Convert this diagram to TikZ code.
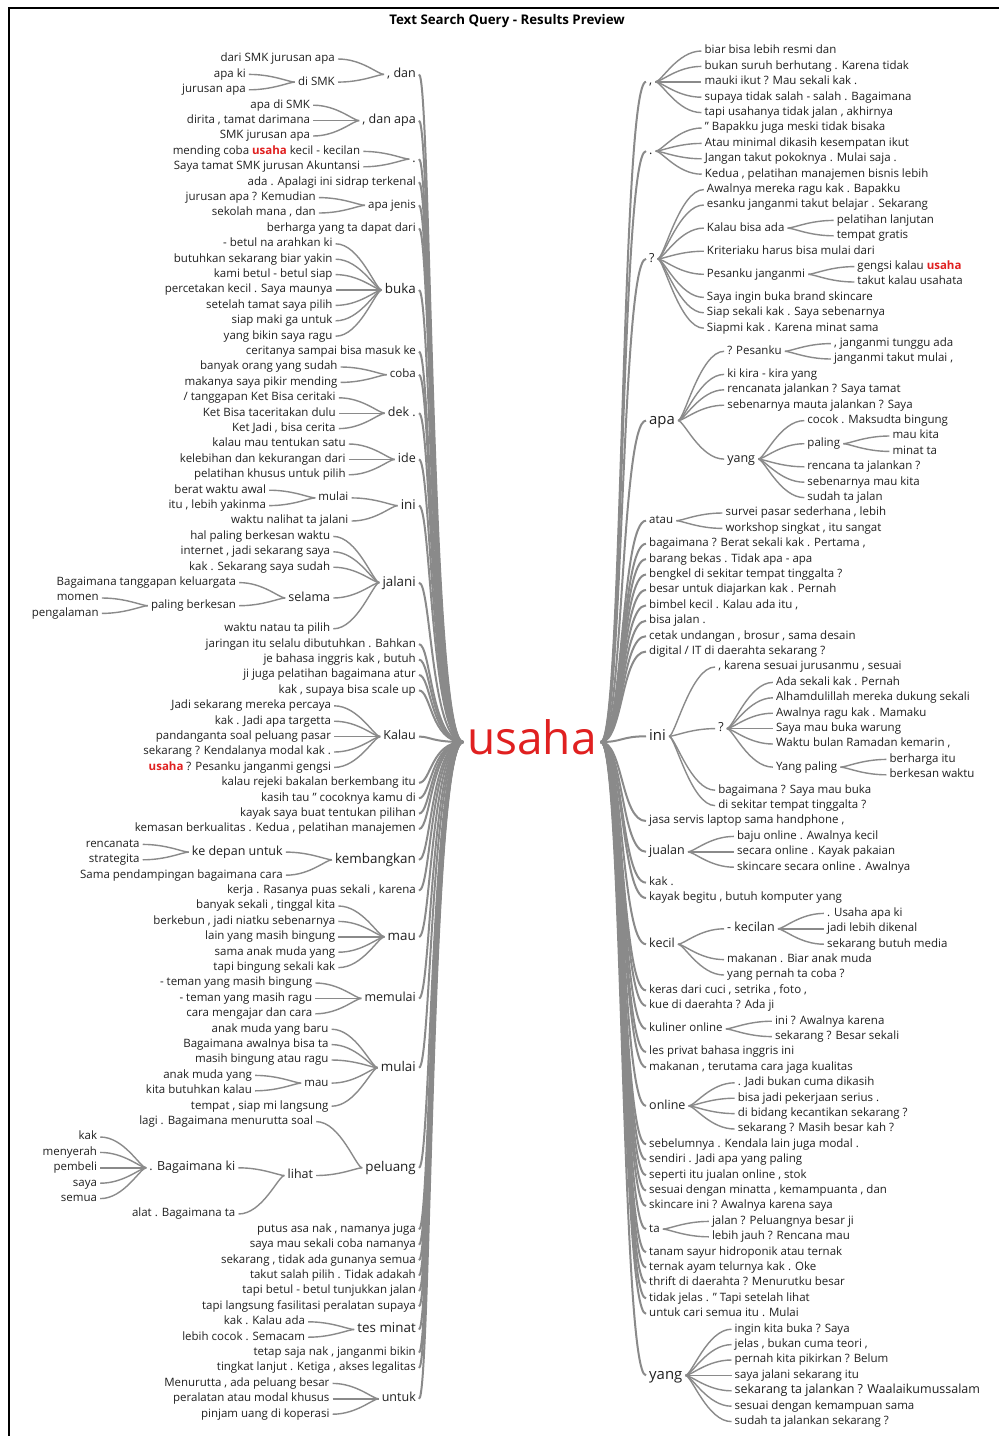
\documentclass[tikz,border=0pt]{standalone}
\usepackage{fontspec}
\setmainfont{Open Sans}
\definecolor{txt}{RGB}{32,32,32}
\definecolor{lnc}{RGB}{138,138,138}
\definecolor{usared}{RGB}{224,32,32}
\newcommand\hlu{{\color{usared}\bfseries usaha}}
\newcommand\conL[2]{\draw[con] (#1.east) .. controls +(24,0) and +(-6,0) .. (#2.west);}
\newcommand\conR[2]{\draw[con] (#1.east) .. controls +(6,0) and +(-24,0) .. (#2.west);}
\newcommand\trL[1]{\draw[trk] (#1.east) .. controls +(12,0) and +(-32,0) .. (usaha.west);}
\newcommand\trR[1]{\draw[trk] (usaha.east) .. controls +(22,0) and +(-25,0) .. (#1.west);}
\begin{document}
\begin{tikzpicture}[x=1pt,y=-1pt,
  every node/.style={inner xsep=3pt,inner ysep=0pt,text=txt},
  sA/.style={font=\fontsize{11.5}{11.5}\selectfont,text height=8.3pt,text depth=2.5pt},
  sB/.style={font=\fontsize{12.5}{12.5}\selectfont,text height=9pt,text depth=2.7pt},
  sC/.style={font=\fontsize{13.4}{13.4}\selectfont,text height=9.7pt,text depth=2.9pt},
  sD/.style={font=\fontsize{14.9}{14.9}\selectfont,text height=10.8pt,text depth=3.2pt},
  lt/.style={anchor=east,sA}, rt/.style={anchor=west,sA},
  lc/.style={lt,xshift=-46pt}, rc/.style={rt,xshift=46pt},
  con/.style={draw=lnc,line width=1.4pt},
  trk/.style={draw=lnc,line width=2pt}]
\useasboundingbox (0,0) rectangle (999,1436);
\fill[white] (0,0) rectangle (999,1436);
\draw[line width=2pt] (9,8) rectangle (1012,1450);
\node[font=\bfseries\fontsize{13.3}{13.3}\selectfont,text=black] (title) at (507,21) {Text Search Query - Results Preview};
\node[font=\fontsize{46}{46}\selectfont,text=usared,inner xsep=4pt,text height=25pt,text depth=0pt] (usaha) at (532,742) {usaha};
% ---------------- LEFT ----------------
\node[lt,sB] (L1) at (419,74.4) {, dan};
\node[lc] (L1a) at (L1.west |- 0,59) {dari SMK jurusan apa};
\node[lc] (L1b) at (L1.west |- 0,82.1) {di SMK};
\node[lc] (L1c) at (L1b.west |- 0,74.4) {apa ki};
\node[lc] (L1d) at (L1b.west |- 0,89.8) {jurusan apa};
\conL{L1a}{L1}\conL{L1b}{L1}\conL{L1c}{L1b}\conL{L1d}{L1b}
\node[lt,sB] (L2) at (419,120.6) {, dan apa};
\node[lc] (L2a) at (L2.west |- 0,105.2) {apa di SMK};
\node[lc] (L2b) at (L2.west |- 0,120.6) {dirita , tamat darimana};
\node[lc] (L2c) at (L2.west |- 0,136) {SMK jurusan apa};
\conL{L2a}{L2}\conL{L2b}{L2}\conL{L2c}{L2}
\node[lt,sB] (L3) at (419,159.1) {.};
\node[lc] (L3a) at (L3.west |- 0,151.4) {mending coba \hlu{} kecil - kecilan};
\node[lc] (L3b) at (L3.west |- 0,166.8) {Saya tamat SMK jurusan Akuntansi};
\conL{L3a}{L3}\conL{L3b}{L3}
\node[lt] (L4) at (419,182.2) {ada . Apalagi ini sidrap terkenal};
\node[lt] (L5) at (419,205.3) {apa jenis};
\node[lc] (L5a) at (L5.west |- 0,197.6) {jurusan apa ? Kemudian};
\node[lc] (L5b) at (L5.west |- 0,213) {sekolah mana , dan};
\conL{L5a}{L5}\conL{L5b}{L5}
\node[lt] (L6) at (419,228.4) {berharga yang ta dapat dari};
\node[lt,sC] (L7) at (419,290) {buka};
\node[lc] (L7a) at (L7.west |- 0,243.8) {- betul na arahkan ki};
\node[lc] (L7b) at (L7.west |- 0,259.2) {butuhkan sekarang biar yakin};
\node[lc] (L7c) at (L7.west |- 0,274.6) {kami betul - betul siap};
\node[lc] (L7d) at (L7.west |- 0,290) {percetakan kecil . Saya maunya};
\node[lc] (L7e) at (L7.west |- 0,305.4) {setelah tamat saya pilih};
\node[lc] (L7f) at (L7.west |- 0,320.8) {siap maki ga untuk};
\node[lc] (L7g) at (L7.west |- 0,336.2) {yang bikin saya ragu};
\foreach \c in {a,b,c,d,e,f,g}{\conL{L7\c}{L7}}
\node[lt] (L8) at (419,351.6) {ceritanya sampai bisa masuk ke};
\node[lt] (L9) at (419,374.7) {coba};
\node[lc] (L9a) at (L9.west |- 0,367) {banyak orang yang sudah};
\node[lc] (L9b) at (L9.west |- 0,382.4) {makanya saya pikir mending};
\conL{L9a}{L9}\conL{L9b}{L9}
\node[lt,sB] (L10) at (419,413.2) {dek .};
\node[lc] (L10a) at (L10.west |- 0,397.8) {/ tanggapan Ket Bisa ceritaki};
\node[lc] (L10b) at (L10.west |- 0,413.2) {Ket Bisa taceritakan dulu};
\node[lc] (L10c) at (L10.west |- 0,428.6) {Ket Jadi , bisa cerita};
\conL{L10a}{L10}\conL{L10b}{L10}\conL{L10c}{L10}
\node[lt,sB] (L11) at (419,459.4) {ide};
\node[lc] (L11a) at (L11.west |- 0,444) {kalau mau tentukan satu};
\node[lc] (L11b) at (L11.west |- 0,459.4) {kelebihan dan kekurangan dari};
\node[lc] (L11c) at (L11.west |- 0,474.8) {pelatihan khusus untuk pilih};
\conL{L11a}{L11}\conL{L11b}{L11}\conL{L11c}{L11}
\node[lt,sC] (L12) at (419,505.6) {ini};
\node[lc] (L12a) at (L12.west |- 0,497.9) {mulai};
\node[lc] (L12b) at (L12.west |- 0,521) {waktu nalihat ta jalani};
\node[lc] (L12c) at (L12a.west |- 0,490.2) {berat waktu awal};
\node[lc] (L12d) at (L12a.west |- 0,505.6) {itu , lebih yakinma};
\conL{L12a}{L12}\conL{L12b}{L12}\conL{L12c}{L12a}\conL{L12d}{L12a}
\node[lt,sC] (L13) at (419,582.6) {jalani};
\node[lc] (L13a) at (L13.west |- 0,536.4) {hal paling berkesan waktu};
\node[lc] (L13b) at (L13.west |- 0,551.8) {internet , jadi sekarang saya};
\node[lc] (L13c) at (L13.west |- 0,567.2) {kak . Sekarang saya sudah};
\node[lc,sB] (L13d) at (L13.west |- 0,598) {selama};
\node[lc] (L13e) at (L13.west |- 0,628.8) {waktu natau ta pilih};
\node[lc] (L13f) at (L13d.west |- 0,582.6) {Bagaimana tanggapan keluargata};
\node[lc] (L13g) at (L13d.west |- 0,605.7) {paling berkesan};
\node[lc] (L13h) at (L13g.west |- 0,598) {momen};
\node[lc] (L13i) at (L13g.west |- 0,613.4) {pengalaman};
\foreach \c in {a,b,c,d,e}{\conL{L13\c}{L13}}
\conL{L13f}{L13d}\conL{L13g}{L13d}\conL{L13h}{L13g}\conL{L13i}{L13g}
\node[lt] (L14) at (419,644.2) {jaringan itu selalu dibutuhkan . Bahkan};
\node[lt] (L15) at (419,659.6) {je bahasa inggris kak , butuh};
\node[lt] (L16) at (419,675) {ji juga pelatihan bagaimana atur};
\node[lt] (L17) at (419,690.4) {kak , supaya bisa scale up};
\node[lt,sB] (L18) at (419,736.6) {Kalau};
\node[lc] (L18a) at (L18.west |- 0,705.8) {Jadi sekarang mereka percaya};
\node[lc] (L18b) at (L18.west |- 0,721.2) {kak . Jadi apa targetta};
\node[lc] (L18c) at (L18.west |- 0,736.6) {pandanganta soal peluang pasar};
\node[lc] (L18d) at (L18.west |- 0,752) {sekarang ? Kendalanya modal kak .};
\node[lc] (L18e) at (L18.west |- 0,767.4) {\hlu{} ? Pesanku janganmi gengsi};
\foreach \c in {a,b,c,d,e}{\conL{L18\c}{L18}}
\node[lt] (L19) at (419,782.8) {kalau rejeki bakalan berkembang itu};
\node[lt] (L20) at (419,798.2) {kasih tau " cocoknya kamu di};
\node[lt] (L21) at (419,813.6) {kayak saya buat tentukan pilihan};
\node[lt] (L22) at (419,829) {kemasan berkualitas . Kedua , pelatihan manajemen};
\node[lt,sC] (L23) at (419,859.8) {kembangkan};
\node[lc,sB] (L23a) at (L23.west |- 0,852.1) {ke depan untuk};
\node[lc] (L23b) at (L23.west |- 0,875.2) {Sama pendampingan bagaimana cara};
\node[lc] (L23c) at (L23a.west |- 0,844.4) {rencanata};
\node[lc] (L23d) at (L23a.west |- 0,859.8) {strategita};
\conL{L23a}{L23}\conL{L23b}{L23}\conL{L23c}{L23a}\conL{L23d}{L23a}
\node[lt] (L24) at (419,890.6) {kerja . Rasanya puas sekali , karena};
\node[lt,sC] (L25) at (419,936.8) {mau};
\node[lc] (L25a) at (L25.west |- 0,906) {banyak sekali , tinggal kita};
\node[lc] (L25b) at (L25.west |- 0,921.4) {berkebun , jadi niatku sebenarnya};
\node[lc] (L25c) at (L25.west |- 0,936.8) {lain yang masih bingung};
\node[lc] (L25d) at (L25.west |- 0,952.2) {sama anak muda yang};
\node[lc] (L25e) at (L25.west |- 0,967.6) {tapi bingung sekali kak};
\foreach \c in {a,b,c,d,e}{\conL{L25\c}{L25}}
\node[lt,sB] (L26) at (419,998.4) {memulai};
\node[lc] (L26a) at (L26.west |- 0,983) {- teman yang masih bingung};
\node[lc] (L26b) at (L26.west |- 0,998.4) {- teman yang masih ragu};
\node[lc] (L26c) at (L26.west |- 0,1013.8) {cara mengajar dan cara};
\conL{L26a}{L26}\conL{L26b}{L26}\conL{L26c}{L26}
\node[lt,sC] (L27) at (419,1067.7) {mulai};
\node[lc] (L27a) at (L27.west |- 0,1029.2) {anak muda yang baru};
\node[lc] (L27b) at (L27.west |- 0,1044.6) {Bagaimana awalnya bisa ta};
\node[lc] (L27c) at (L27.west |- 0,1060) {masih bingung atau ragu};
\node[lc] (L27d) at (L27.west |- 0,1083.1) {mau};
\node[lc] (L27e) at (L27.west |- 0,1106.2) {tempat , siap mi langsung};
\node[lc] (L27f) at (L27d.west |- 0,1075.4) {anak muda yang};
\node[lc] (L27g) at (L27d.west |- 0,1090.8) {kita butuhkan kalau};
\foreach \c in {a,b,c,d,e}{\conL{L27\c}{L27}}
\conL{L27f}{L27d}\conL{L27g}{L27d}
\node[lt,sC] (L28) at (419,1167.8) {peluang};
\node[lc] (L28a) at (L28.west |- 0,1121.6) {lagi . Bagaimana menurutta soal};
\node[lc,sB] (L28b) at (L28.west |- 0,1175.5) {lihat};
\node[lc,sB] (L28c) at (L28b.west |- 0,1167.8) {. Bagaimana ki};
\node[lc] (L28d) at (L28b.west |- 0,1214) {alat . Bagaimana ta};
\node[lc] (L28e) at (L28c.west |- 0,1137) {kak};
\node[lc] (L28f) at (L28c.west |- 0,1152.4) {menyerah};
\node[lc] (L28g) at (L28c.west |- 0,1167.8) {pembeli};
\node[lc] (L28h) at (L28c.west |- 0,1183.2) {saya};
\node[lc] (L28i) at (L28c.west |- 0,1198.6) {semua};
\conL{L28a}{L28}\conL{L28b}{L28}\conL{L28c}{L28b}\conL{L28d}{L28b}
\foreach \c in {e,f,g,h,i}{\conL{L28\c}{L28c}}
\node[lt] (L29) at (419,1229.4) {putus asa nak , namanya juga};
\node[lt] (L30) at (419,1244.8) {saya mau sekali coba namanya};
\node[lt] (L31) at (419,1260.2) {sekarang , tidak ada gunanya semua};
\node[lt] (L32) at (419,1275.6) {takut salah pilih . Tidak adakah};
\node[lt] (L33) at (419,1291) {tapi betul - betul tunjukkan jalan};
\node[lt] (L34) at (419,1306.4) {tapi langsung fasilitasi peralatan supaya};
\node[lt,sC] (L35) at (419,1329.5) {tes minat};
\node[lc] (L35a) at (L35.west |- 0,1321.8) {kak . Kalau ada};
\node[lc] (L35b) at (L35.west |- 0,1337.2) {lebih cocok . Semacam};
\conL{L35a}{L35}\conL{L35b}{L35}
\node[lt] (L36) at (419,1352.6) {tetap saja nak , janganmi bikin};
\node[lt] (L37) at (419,1368) {tingkat lanjut . Ketiga , akses legalitas};
\node[lt,sB] (L38) at (419,1398.8) {untuk};
\node[lc] (L38a) at (L38.west |- 0,1383.4) {Menurutta , ada peluang besar};
\node[lc] (L38b) at (L38.west |- 0,1398.8) {peralatan atau modal khusus};
\node[lc] (L38c) at (L38.west |- 0,1414.2) {pinjam uang di koperasi};
\conL{L38a}{L38}\conL{L38b}{L38}\conL{L38c}{L38}
\foreach \i in {1,...,38}{\trL{L\i}}
% ---------------- RIGHT ----------------
\node[rt,sB] (R1) at (646,81.8) {,};
\node[rc] (R1a) at (R1.east |- 0,51) {biar bisa lebih resmi dan};
\node[rc] (R1b) at (R1.east |- 0,66.4) {bukan suruh berhutang . Karena tidak};
\node[rc] (R1c) at (R1.east |- 0,81.8) {mauki ikut ? Mau sekali kak .};
\node[rc] (R1d) at (R1.east |- 0,97.2) {supaya tidak salah - salah . Bagaimana};
\node[rc] (R1e) at (R1.east |- 0,112.6) {tapi usahanya tidak jalan , akhirnya};
\foreach \c in {a,b,c,d,e}{\conR{R1}{R1\c}}
\node[rt,sB] (R2) at (646,151.1) {.};
\node[rc] (R2a) at (R2.east |- 0,128) {" Bapakku juga meski tidak bisaka};
\node[rc] (R2b) at (R2.east |- 0,143.4) {Atau minimal dikasih kesempatan ikut};
\node[rc] (R2c) at (R2.east |- 0,158.8) {Jangan takut pokoknya . Mulai saja .};
\node[rc] (R2d) at (R2.east |- 0,174.2) {Kedua , pelatihan manajemen bisnis lebih};
\foreach \c in {a,b,c,d}{\conR{R2}{R2\c}}
\node[rt,sB] (R3) at (646,258.9) {?};
\node[rc] (R3a) at (R3.east |- 0,189.6) {Awalnya mereka ragu kak . Bapakku};
\node[rc] (R3b) at (R3.east |- 0,205) {esanku janganmi takut belajar . Sekarang};
\node[rc] (R3c) at (R3.east |- 0,228.1) {Kalau bisa ada};
\node[rc] (R3d) at (R3.east |- 0,251.2) {Kriteriaku harus bisa mulai dari};
\node[rc] (R3e) at (R3.east |- 0,274.3) {Pesanku janganmi};
\node[rc] (R3f) at (R3.east |- 0,297.4) {Saya ingin buka brand skincare};
\node[rc] (R3g) at (R3.east |- 0,312.8) {Siap sekali kak . Saya sebenarnya};
\node[rc] (R3h) at (R3.east |- 0,328.2) {Siapmi kak . Karena minat sama};
\node[rc] (R3i) at (R3c.east |- 0,220.4) {pelatihan lanjutan};
\node[rc] (R3j) at (R3c.east |- 0,235.8) {tempat gratis};
\node[rc] (R3k) at (R3e.east |- 0,266.6) {gengsi kalau \hlu};
\node[rc] (R3l) at (R3e.east |- 0,282) {takut kalau usahata};
\foreach \c in {a,b,c,d,e,f,g,h}{\conR{R3}{R3\c}}
\conR{R3c}{R3i}\conR{R3c}{R3j}\conR{R3e}{R3k}\conR{R3e}{R3l}
\node[rt,sD] (R4) at (646,420.6) {apa};
\node[rc] (R4a) at (R4.east |- 0,351.3) {? Pesanku};
\node[rc] (R4b) at (R4.east |- 0,374.4) {ki kira - kira yang};
\node[rc] (R4c) at (R4.east |- 0,389.8) {rencanata jalankan ? Saya tamat};
\node[rc] (R4d) at (R4.east |- 0,405.2) {sebenarnya mauta jalankan ? Saya};
\node[rc,sB] (R4e) at (R4.east |- 0,459.1) {yang};
\node[rc] (R4f) at (R4a.east |- 0,343.6) {, janganmi tunggu ada};
\node[rc] (R4g) at (R4a.east |- 0,359) {janganmi takut mulai ,};
\node[rc] (R4h) at (R4e.east |- 0,420.6) {cocok . Maksudta bingung};
\node[rc] (R4i) at (R4e.east |- 0,443.7) {paling};
\node[rc] (R4j) at (R4e.east |- 0,466.8) {rencana ta jalankan ?};
\node[rc] (R4k) at (R4e.east |- 0,482.2) {sebenarnya mau kita};
\node[rc] (R4l) at (R4e.east |- 0,497.6) {sudah ta jalan};
\node[rc] (R4m) at (R4i.east |- 0,436) {mau kita};
\node[rc] (R4n) at (R4i.east |- 0,451.4) {minat ta};
\foreach \c in {a,b,c,d,e}{\conR{R4}{R4\c}}
\conR{R4a}{R4f}\conR{R4a}{R4g}
\foreach \c in {h,i,j,k,l}{\conR{R4e}{R4\c}}
\conR{R4i}{R4m}\conR{R4i}{R4n}
\node[rt] (R5) at (646,520.7) {atau};
\node[rc] (R5a) at (R5.east |- 0,513) {survei pasar sederhana , lebih};
\node[rc] (R5b) at (R5.east |- 0,528.4) {workshop singkat , itu sangat};
\conR{R5}{R5a}\conR{R5}{R5b}
\node[rt] (R6) at (646,543.8) {bagaimana ? Berat sekali kak . Pertama ,};
\node[rt] (R7) at (646,559.2) {barang bekas . Tidak apa - apa};
\node[rt] (R8) at (646,574.6) {bengkel di sekitar tempat tinggalta ?};
\node[rt] (R9) at (646,590) {besar untuk diajarkan kak . Pernah};
\node[rt] (R10) at (646,605.4) {bimbel kecil . Kalau ada itu ,};
\node[rt] (R11) at (646,620.8) {bisa jalan .};
\node[rt] (R12) at (646,636.2) {cetak undangan , brosur , sama desain};
\node[rt] (R13) at (646,651.6) {digital / IT di daerahta sekarang ?};
\node[rt,sD] (R14) at (646,736.3) {ini};
\node[rc] (R14a) at (R14.east |- 0,667) {, karena sesuai jurusanmu , sesuai};
\node[rc,sB] (R14b) at (R14.east |- 0,728.6) {?};
\node[rc] (R14c) at (R14.east |- 0,790.2) {bagaimana ? Saya mau buka};
\node[rc] (R14d) at (R14.east |- 0,805.6) {di sekitar tempat tinggalta ?};
\node[rc] (R14e) at (R14b.east |- 0,682.4) {Ada sekali kak . Pernah};
\node[rc] (R14f) at (R14b.east |- 0,697.8) {Alhamdulillah mereka dukung sekali};
\node[rc] (R14g) at (R14b.east |- 0,713.2) {Awalnya ragu kak . Mamaku};
\node[rc] (R14h) at (R14b.east |- 0,728.6) {Saya mau buka warung};
\node[rc] (R14i) at (R14b.east |- 0,744) {Waktu bulan Ramadan kemarin ,};
\node[rc] (R14j) at (R14b.east |- 0,767.1) {Yang paling};
\node[rc] (R14k) at (R14j.east |- 0,759.4) {berharga itu};
\node[rc] (R14l) at (R14j.east |- 0,774.8) {berkesan waktu};
\foreach \c in {a,b,c,d}{\conR{R14}{R14\c}}
\foreach \c in {e,f,g,h,i,j}{\conR{R14b}{R14\c}}
\conR{R14j}{R14k}\conR{R14j}{R14l}
\node[rt] (R15) at (646,821) {jasa servis laptop sama handphone ,};
\node[rt,sB] (R16) at (646,851.8) {jualan};
\node[rc] (R16a) at (R16.east |- 0,836.4) {baju online . Awalnya kecil};
\node[rc] (R16b) at (R16.east |- 0,851.8) {secara online . Kayak pakaian};
\node[rc] (R16c) at (R16.east |- 0,867.2) {skincare secara online . Awalnya};
\conR{R16}{R16a}\conR{R16}{R16b}\conR{R16}{R16c}
\node[rt] (R17) at (646,882.6) {kak .};
\node[rt] (R18) at (646,898) {kayak begitu , butuh komputer yang};
\node[rt,sB] (R19) at (646,944.2) {kecil};
\node[rc,sB] (R19a) at (R19.east |- 0,928.8) {- kecilan};
\node[rc] (R19b) at (R19.east |- 0,959.6) {makanan . Biar anak muda};
\node[rc] (R19c) at (R19.east |- 0,975) {yang pernah ta coba ?};
\node[rc] (R19d) at (R19a.east |- 0,913.4) {. Usaha apa ki};
\node[rc] (R19e) at (R19a.east |- 0,928.8) {jadi lebih dikenal};
\node[rc] (R19f) at (R19a.east |- 0,944.2) {sekarang butuh media};
\conR{R19}{R19a}\conR{R19}{R19b}\conR{R19}{R19c}
\conR{R19a}{R19d}\conR{R19a}{R19e}\conR{R19a}{R19f}
\node[rt] (R20) at (646,990.4) {keras dari cuci , setrika , foto ,};
\node[rt] (R21) at (646,1005.8) {kue di daerahta ? Ada ji};
\node[rt] (R22) at (646,1028.9) {kuliner online};
\node[rc] (R22a) at (R22.east |- 0,1021.2) {ini ? Awalnya karena};
\node[rc] (R22b) at (R22.east |- 0,1036.6) {sekarang ? Besar sekali};
\conR{R22}{R22a}\conR{R22}{R22b}
\node[rt] (R23) at (646,1052) {les privat bahasa inggris ini};
\node[rt] (R24) at (646,1067.4) {makanan , terutama cara jaga kualitas};
\node[rt,sB] (R25) at (646,1105.9) {online};
\node[rc] (R25a) at (R25.east |- 0,1082.8) {. Jadi bukan cuma dikasih};
\node[rc] (R25b) at (R25.east |- 0,1098.2) {bisa jadi pekerjaan serius .};
\node[rc] (R25c) at (R25.east |- 0,1113.6) {di bidang kecantikan sekarang ?};
\node[rc] (R25d) at (R25.east |- 0,1129) {sekarang ? Masih besar kah ?};
\foreach \c in {a,b,c,d}{\conR{R25}{R25\c}}
\node[rt] (R26) at (646,1144.4) {sebelumnya . Kendala lain juga modal .};
\node[rt] (R27) at (646,1159.8) {sendiri . Jadi apa yang paling};
\node[rt] (R28) at (646,1175.2) {seperti itu jualan online , stok};
\node[rt] (R29) at (646,1190.6) {sesuai dengan minatta , kemampuanta , dan};
\node[rt] (R30) at (646,1206) {skincare ini ? Awalnya karena saya};
\node[rt] (R31) at (646,1229.1) {ta};
\node[rc] (R31a) at (R31.east |- 0,1221.4) {jalan ? Peluangnya besar ji};
\node[rc] (R31b) at (R31.east |- 0,1236.8) {lebih jauh ? Rencana mau};
\conR{R31}{R31a}\conR{R31}{R31b}
\node[rt] (R32) at (646,1252.2) {tanam sayur hidroponik atau ternak};
\node[rt] (R33) at (646,1267.6) {ternak ayam telurnya kak . Oke};
\node[rt] (R34) at (646,1283) {thrift di daerahta ? Menurutku besar};
\node[rt] (R35) at (646,1298.4) {tidak jelas . " Tapi setelah lihat};
\node[rt] (R36) at (646,1313.8) {untuk cari semua itu . Mulai};
\node[rt,sD] (R37) at (646,1375.4) {yang};
\node[rc] (R37a) at (R37.east |- 0,1329.2) {ingin kita buka ? Saya};
\node[rc] (R37b) at (R37.east |- 0,1344.6) {jelas , bukan cuma teori ,};
\node[rc] (R37c) at (R37.east |- 0,1360) {pernah kita pikirkan ? Belum};
\node[rc] (R37d) at (R37.east |- 0,1375.4) {saya jalani sekarang itu};
\node[rc,sB] (R37e) at (R37.east |- 0,1390.8) {sekarang ta jalankan ? Waalaikumussalam};
\node[rc] (R37f) at (R37.east |- 0,1406.2) {sesuai dengan kemampuan sama};
\node[rc] (R37g) at (R37.east |- 0,1421.6) {sudah ta jalankan sekarang ?};
\foreach \c in {a,b,c,d,e,f,g}{\conR{R37}{R37\c}}
\foreach \i in {1,...,37}{\trR{R\i}}
\end{tikzpicture}
\end{document}
